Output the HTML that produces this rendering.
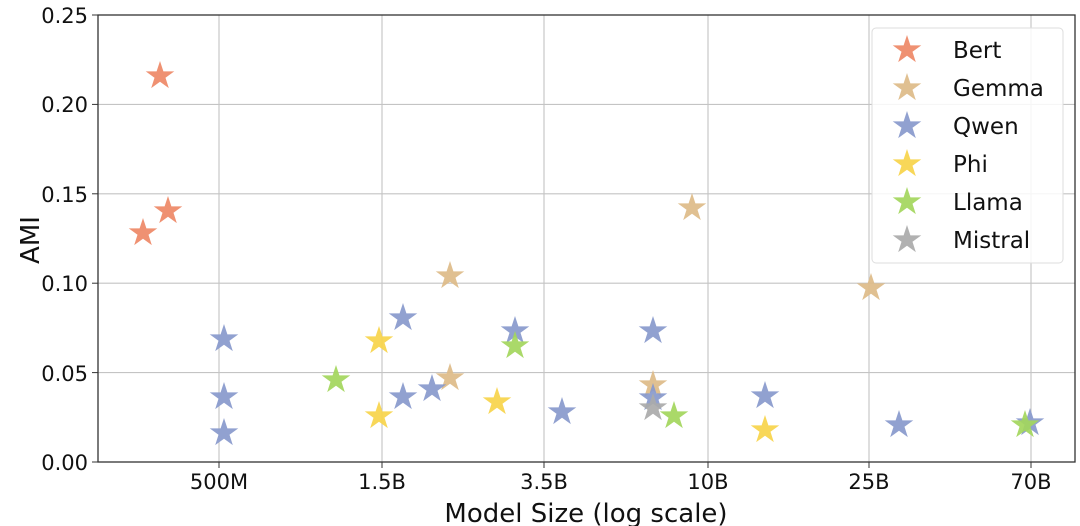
<!DOCTYPE html>
<html><head><meta charset="utf-8"><style>
html,body{margin:0;padding:0;background:#fff;}
svg{display:block;font-family:"DejaVu Sans","Liberation Sans",sans-serif;}
</style></head><body>
<svg width="1080" height="526" viewBox="0 0 1080 526" xmlns="http://www.w3.org/2000/svg">
<defs>
<polygon id="s" points="0,-15 3.4,-4.68 14.26,-4.64 5.5,1.79 8.82,12.14 0,5.79 -8.82,12.14 -5.5,1.79 -14.26,-4.64 -3.4,-4.68"/>
</defs>
<g stroke="#c4c4c4" stroke-width="1.1">
<line x1="98" x2="1075" y1="104.4" y2="104.4"/><line x1="98" x2="1075" y1="193.8" y2="193.8"/>
<line x1="98" x2="1075" y1="283.2" y2="283.2"/><line x1="98" x2="1075" y1="372.6" y2="372.6"/>
<line y1="15" y2="462" x1="219" x2="219"/><line y1="15" y2="462" x1="382" x2="382"/>
<line y1="15" y2="462" x1="544" x2="544"/><line y1="15" y2="462" x1="708" x2="708"/>
<line y1="15" y2="462" x1="869" x2="869"/><line y1="15" y2="462" x1="1031" x2="1031"/>
</g>
<rect x="98" y="15" width="977" height="447" fill="none" stroke="#333" stroke-width="1.3"/>
<g stroke="#333"><line x1="92" x2="98" y1="15" y2="15"/><line x1="92" x2="98" y1="104.4" y2="104.4"/><line x1="92" x2="98" y1="193.8" y2="193.8"/><line x1="92" x2="98" y1="283.2" y2="283.2"/><line x1="92" x2="98" y1="372.6" y2="372.6"/><line x1="92" x2="98" y1="462" y2="462"/>
<line y1="462" y2="468" x1="219" x2="219"/><line y1="462" y2="468" x1="382" x2="382"/><line y1="462" y2="468" x1="544" x2="544"/><line y1="462" y2="468" x1="708" x2="708"/><line y1="462" y2="468" x1="869" x2="869"/><line y1="462" y2="468" x1="1031" x2="1031"/></g>
<g font-size="21" fill="#111" text-anchor="end">
<text x="88" y="23">0.25</text><text x="88" y="112">0.20</text><text x="88" y="202">0.15</text><text x="88" y="291">0.10</text><text x="88" y="381">0.05</text><text x="88" y="470">0.00</text>
</g>
<g font-size="21" fill="#111" text-anchor="middle">
<text x="219" y="489">500M</text><text x="382" y="489">1.5B</text><text x="544" y="489">3.5B</text><text x="708" y="489">10B</text><text x="869" y="489">25B</text><text x="1031" y="489">70B</text>
</g>
<text x="586" y="522" font-size="26" text-anchor="middle" fill="#111">Model Size (log scale)</text>
<text transform="translate(39,240) rotate(-90)" font-size="26" text-anchor="middle" fill="#111">AMI</text>
<g fill-opacity="0.92">
<g fill="#ee8866"><use href="#s" x="160" y="76"/><use href="#s" x="143" y="233"/><use href="#s" x="168" y="211"/></g>
<g fill="#ddbb88"><use href="#s" x="450" y="276"/><use href="#s" x="450" y="378"/><use href="#s" x="692" y="208"/><use href="#s" x="653" y="385"/><use href="#s" x="871" y="288"/></g>
<g fill="#8899cc"><use href="#s" x="224" y="339"/><use href="#s" x="224" y="397"/><use href="#s" x="224" y="433"/><use href="#s" x="403" y="318"/><use href="#s" x="403" y="397"/><use href="#s" x="432" y="389"/><use href="#s" x="515" y="331"/><use href="#s" x="562" y="412"/><use href="#s" x="653" y="331"/><use href="#s" x="653" y="398"/><use href="#s" x="765" y="396"/><use href="#s" x="899" y="425"/><use href="#s" x="1030" y="423"/></g>
<g fill="#f7d44a"><use href="#s" x="379" y="341"/><use href="#s" x="379" y="416"/><use href="#s" x="497" y="402"/><use href="#s" x="765" y="430"/></g>
<g fill="#a3d65c"><use href="#s" x="336" y="380"/><use href="#s" x="515" y="346"/><use href="#s" x="674" y="416"/><use href="#s" x="1025" y="425"/></g>
<g fill="#aaaaaa"><use href="#s" x="653" y="408"/></g>
</g>
<rect x="872" y="28" width="191" height="235" rx="4" fill="#fff" fill-opacity="0.85" stroke="#ddd"/>
<g fill-opacity="0.92">
<use href="#s" x="907" y="50" fill="#ee8866"/><use href="#s" x="907" y="88" fill="#ddbb88"/><use href="#s" x="907" y="126" fill="#8899cc"/><use href="#s" x="907" y="164" fill="#f7d44a"/><use href="#s" x="907" y="202" fill="#a3d65c"/><use href="#s" x="907" y="240" fill="#aaaaaa"/>
</g>
<g font-size="23" fill="#111">
<text x="953" y="58">Bert</text><text x="953" y="96">Gemma</text><text x="953" y="134">Qwen</text><text x="953" y="172">Phi</text><text x="953" y="210">Llama</text><text x="953" y="248">Mistral</text>
</g>
</svg>
</body></html>
